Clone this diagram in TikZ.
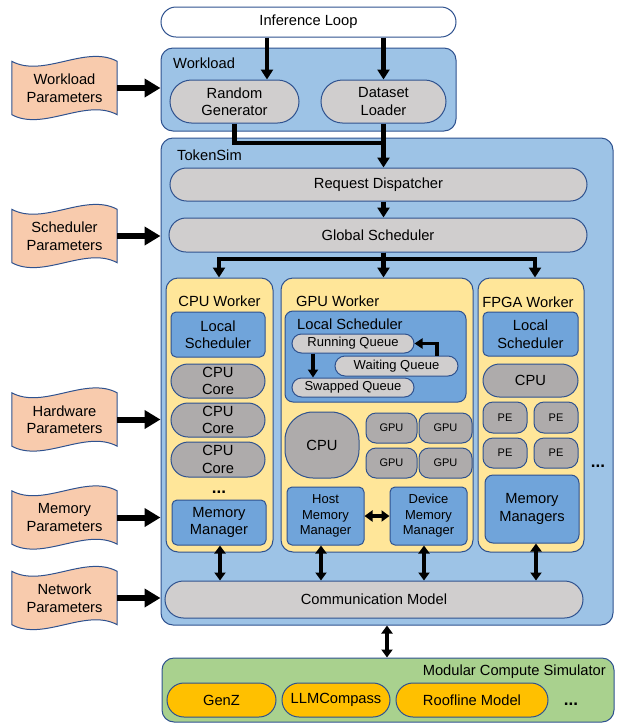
\documentclass[tikz,border=0pt]{standalone}
\usepackage{fontspec}
\setmainfont{Liberation Sans}
\usetikzlibrary{arrows.meta,shapes.misc,calc,backgrounds}
\definecolor{bord}{HTML}{2F528F}
\definecolor{ltblue}{HTML}{9DC3E6}
\definecolor{ltgray}{HTML}{D0CECE}
\definecolor{dgray}{HTML}{AEABAB}
\definecolor{blu}{HTML}{70A4DA}
\definecolor{yell}{HTML}{FFE699}
\definecolor{peach}{HTML}{F8CBAD}
\definecolor{grn}{HTML}{A9D18E}
\definecolor{gold}{HTML}{FFC000}
\newcommand{\fA}{\fontsize{14.7}{17.5}\selectfont}
\newcommand{\fB}{\fontsize{13}{15.5}\selectfont}
\newcommand{\fC}{\fontsize{11}{13}\selectfont}
\newcommand{\fD}{\fontsize{17}{18}\selectfont\bfseries}
\newcommand{\bx}[7]{\node[#2, minimum width={#5-#3}, minimum height={#6-#4}] (#1) at ({(#3+#5)/2},{(#4+#6)/2}) {#7};}
\newcommand{\wavy}[1]{\draw[wavyst] (#1.north west) .. controls ($(#1.north west)+(31.5,17)$) and ($(#1.north east)+(-31.5,-17)$) .. (#1.north east) -- (#1.south east) .. controls ($(#1.south east)+(-31.5,-17)$) and ($(#1.south west)+(31.5,17)$) .. (#1.south west) -- cycle;}
\tikzset{
 base/.style={draw=bord, line width=1pt, inner sep=0pt, align=center},
 pill/.style={base, rounded rectangle},
 cont/.style={base, fill=ltblue, rounded corners=12pt},
 worker/.style={base, fill=yell, rounded corners=12pt},
 bluebox/.style={base, fill=blu, rounded corners=5pt},
 dpill/.style={pill, fill=dgray},
 qpill/.style={pill, fill=ltgray, font=\fB},
 chip/.style={base, fill=dgray, rounded corners=10pt, font=\fC},
 gpill/.style={pill, fill=gold},
 lab/.style={inner sep=0pt},
 dotsst/.style={inner sep=0pt, font=\fD},
 param/.style={inner sep=0pt, align=center, minimum width=105pt, minimum height=53pt},
 wavyst/.style={draw=bord, line width=1pt, fill=peach},
 arrm/.style={line width=4.5pt, -{Triangle[length=10pt,width=12pt]}},
 lnm/.style={line width=4.5pt},
 arrb/.style={line width=6pt, -{Triangle[length=16pt,width=18pt]}},
 arrs/.style={line width=3.5pt, -{Triangle[length=8pt,width=10pt]}},
 dbl/.style={line width=3.5pt, {Triangle[length=8pt,width=11pt]}-{Triangle[length=8pt,width=11pt]}},
}
\begin{document}
\begin{tikzpicture}[x=1pt,y=-1pt,font=\fA]
\useasboundingbox (0,0) rectangle (621,724);
% parameter documents
\node[param] (pw) at (64.5,88) {Workload\\Parameters};
\node[param] (ps) at (64.5,236) {Scheduler\\Parameters};
\node[param] (ph) at (64.5,419.5) {Hardware\\Parameters};
\node[param] (pm) at (64.5,517.5) {Memory\\Parameters};
\node[param] (pn) at (64.5,598) {Network\\Parameters};
\begin{pgfonlayer}{background}
\wavy{pw}\wavy{ps}\wavy{ph}\wavy{pm}\wavy{pn}
\end{pgfonlayer}
% top
\bx{inf}{pill, fill=white}{161}{7}{456}{37}{Inference Loop}
\bx{wl}{cont}{161}{48}{456}{131}{}
\node[lab, anchor=west] (wllab) at (173,63) {Workload};
\bx{rg}{pill, fill=ltgray}{170}{80}{299}{123}{Random\\Generator}
\bx{dl}{pill, fill=ltgray}{321}{80}{446}{123}{Dataset\\Loader}
% TokenSim
\bx{ts}{cont}{161}{138}{613}{625}{}
\node[lab, anchor=west] (tslab) at (177,155) {TokenSim};
\bx{rd}{pill, fill=ltgray}{170}{168}{587}{201}{Request Dispatcher}
\bx{gs}{pill, fill=ltgray}{169}{218}{587}{252}{Global Scheduler}
\bx{cpuw}{worker}{166}{278}{273}{552}{}
\bx{gpuw}{worker}{281}{278}{473}{552}{}
\bx{fpgaw}{worker}{478}{278}{584}{552}{}
% CPU worker
\node[lab] (cpulab) at (219.5,301) {CPU Worker};
\bx{cls}{bluebox}{171}{312}{265}{357}{Local\\Scheduler}
\bx{cc1}{dpill}{171}{364}{265}{398}{CPU\\Core}
\bx{cc2}{dpill}{171}{403}{265}{437}{CPU\\Core}
\bx{cc3}{dpill}{171}{442}{265}{477}{CPU\\Core}
\node[dotsst] (cdots) at (219,492) {...};
\bx{cmm}{bluebox}{172}{500}{266}{545}{Memory\\Manager}
% GPU worker
\node[lab, anchor=west] (gpulab) at (296,301) {GPU Worker};
\bx{gls}{bluebox, rounded corners=8pt}{285}{311}{466}{402}{}
\node[lab, anchor=west] (glslab) at (297,324) {Local Scheduler};
\bx{rq}{qpill}{292}{334}{414}{353}{Running Queue}
\bx{wq}{qpill}{335}{356}{458}{376}{Waiting Queue}
\bx{sq}{qpill}{292}{378}{414}{397}{Swapped Queue}
\bx{gcpu}{base, fill=dgray, rounded corners=28pt}{285}{412}{359}{478}{CPU}
\bx{g1}{chip}{366}{413}{417}{443}{GPU}
\bx{g2}{chip}{419}{413}{472}{443}{GPU}
\bx{g3}{chip}{366}{448}{417}{478}{GPU}
\bx{g4}{chip}{419}{448}{472}{478}{GPU}
\bx{hmm}{bluebox, font=\fB}{287}{487}{364}{545}{Host\\Memory\\Manager}
\bx{dmm}{bluebox, font=\fB}{390}{487}{467}{545}{Device\\Memory\\Manager}
% FPGA worker
\node[lab] (fpgalab) at (528,302) {FPGA Worker};
\bx{fls}{bluebox}{483}{312}{578}{356}{Local\\Scheduler}
\bx{fcpu}{dpill}{483}{364}{578}{397}{CPU}
\bx{pe1}{chip}{483}{402}{527}{433}{PE}
\bx{pe2}{chip}{534}{402}{578}{433}{PE}
\bx{pe3}{chip}{483}{438}{527}{468}{PE}
\bx{pe4}{chip}{534}{438}{578}{468}{PE}
\bx{fmm}{bluebox, rounded corners=8pt}{485}{475}{579}{543}{Memory\\Managers}
\node[dotsst] (fdots) at (598,466) {...};
\bx{comm}{pill, fill=ltgray}{165}{581}{583}{618}{Communication Model}
% Modular compute simulator
\bx{mcs}{cont, fill=grn}{162}{658}{614}{722}{}
\node[lab, anchor=east] (mcslab) at (606,672) {Modular Compute Simulator};
\bx{genz}{gpill}{167}{683}{276}{717}{GenZ}
\bx{llm}{gpill}{282}{683}{390}{717}{LLMCompass}
\bx{roof}{gpill}{396}{683}{548}{717}{Roofline Model}
\node[dotsst] (mdots) at (571,704) {...};
% connectors
\coordinate (xa) at (267,0);
\coordinate (j1) at (dl.south |- 0,143);
\coordinate (bl) at (219,259);
\coordinate (br) at (535,259);
\coordinate (xq) at (313,0);
\coordinate (xw) at (437,0);
\coordinate (xc1) at (220,0);
\coordinate (xc2) at (321,0);
\coordinate (xc3) at (424,0);
\coordinate (xc4) at (536,0);
\coordinate (xc5) at (387,0);
\draw[arrm] (xa |- inf.south) -- (xa |- rg.north);
\draw[arrm] (dl.north |- inf.south) -- (dl.north);
\draw[lnm] (rg.south) |- (j1);
\draw[arrm] (dl.south) -- (dl.south |- rd.north);
\draw[arrm] (dl.south |- rd.south) -- (dl.south |- gs.north);
\draw[arrm] (dl.south |- gs.south) |- (bl) -- (bl |- cpuw.north);
\draw[arrm] (dl.south |- gs.south) |- (br) -- (br |- fpgaw.north);
\draw[arrm] (dl.south |- gs.south) -- (dl.south |- gpuw.north);
\draw[arrb] (pw.east) -- (pw.east -| wl.west);
\draw[arrb] (ps.east) -- (ps.east -| ts.west);
\draw[arrb] (ph.east) -- (ph.east -| ts.west);
\draw[arrb] (pm.east) -- (pm.east -| ts.west);
\draw[arrb] (pn.east) -- (pn.east -| ts.west);
\draw[arrs] (xq |- rq.south) -- (xq |- sq.north);
\draw[arrs] (xw |- wq.north) |- (rq.east);
\draw[dbl] (hmm.east) -- (dmm.west);
\draw[dbl] (xc1 |- cmm.south) -- (xc1 |- comm.north);
\draw[dbl] (xc2 |- hmm.south) -- (xc2 |- comm.north);
\draw[dbl] (xc3 |- dmm.south) -- (xc3 |- comm.north);
\draw[dbl] (xc4 |- fmm.south) -- (xc4 |- comm.north);
\draw[dbl] (xc5 |- ts.south) -- (xc5 |- mcs.north);
\end{tikzpicture}
\end{document}
